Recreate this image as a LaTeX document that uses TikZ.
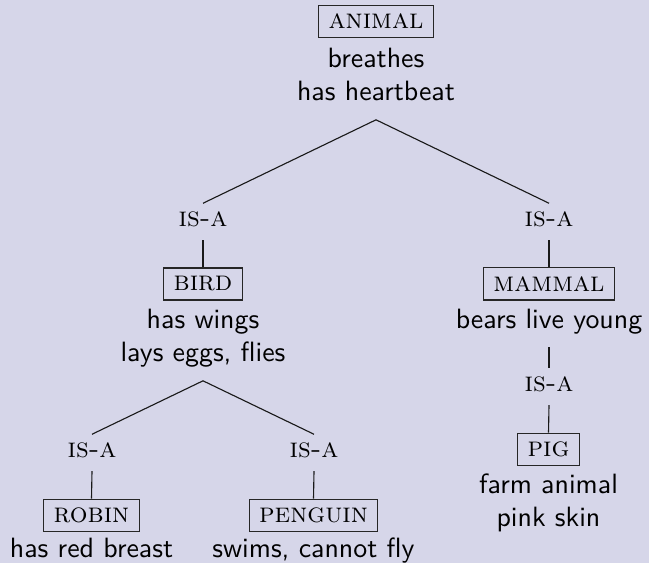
\documentclass[tikz,border=0pt]{standalone}
\definecolor{bgc}{RGB}{214,214,233}
\begin{document}
\begin{tikzpicture}[x=0.35842pt,y=-0.35842pt,
  concept/.style={draw=black!85,line width=0.4pt,inner xsep=3.6pt,inner ysep=3.1pt,font=\scshape},
  props/.style={anchor=north,align=center,font=\sffamily,inner sep=3pt},
  isa/.style={anchor=base,font=\scshape,inner sep=3pt,text depth=1.5pt},
  link/.style={line width=0.4pt,black!90}]
\fill[bgc] (0,0) rectangle (649,563);
\useasboundingbox (0,0) rectangle (649,563);
% concepts
\node[concept] (animal) at (376,21.5) {animal};
\node[props] (animalP) at (376,35) {\strut breathes\\\strut has heartbeat};
\node[isa] (isaL) at (203,227) {is-a};
\node[isa] (isaR) at (549,227) {is-a};
\node[concept] (bird) at (203,284) {bird};
\node[props] (birdP) at (203,296) {\strut has wings\\\strut lays eggs, flies};
\node[concept] (mammal) at (549,284) {mammal};
\node[props] (mammalP) at (549,296) {\strut bears live young};
\node[isa] (isaR2) at (549,392) {is-a};
\node[concept] (pig) at (548.5,449.5) {pig};
\node[props] (pigP) at (548.5,461) {\strut farm animal\\\strut pink skin};
\node[isa] (isaLL) at (92,458) {is-a};
\node[isa] (isaLR) at (314,458) {is-a};
\node[concept] (robin) at (91.5,515.5) {robin};
\node[props] (robinP) at (91.5,525) {\strut has red breast};
\node[concept] (penguin) at (313.5,515.5) {penguin};
\node[props] (penguinP) at (313.5,525) {\strut swims, cannot fly};
% connectors
\draw[link] (isaL.north) -- (animalP.south) -- (isaR.north);
\draw[link] (isaL.south) -- (bird.north);
\draw[link] (isaR.south) -- (mammal.north);
\draw[link] (isaLL.north) -- (birdP.south) -- (isaLR.north);
\draw[link] (isaLL.south) -- (robin.north);
\draw[link] (isaLR.south) -- (penguin.north);
\draw[link] (mammalP.south) -- (isaR2.north);
\draw[link] (isaR2.south) -- (pig.north);
\end{tikzpicture}
\end{document}
